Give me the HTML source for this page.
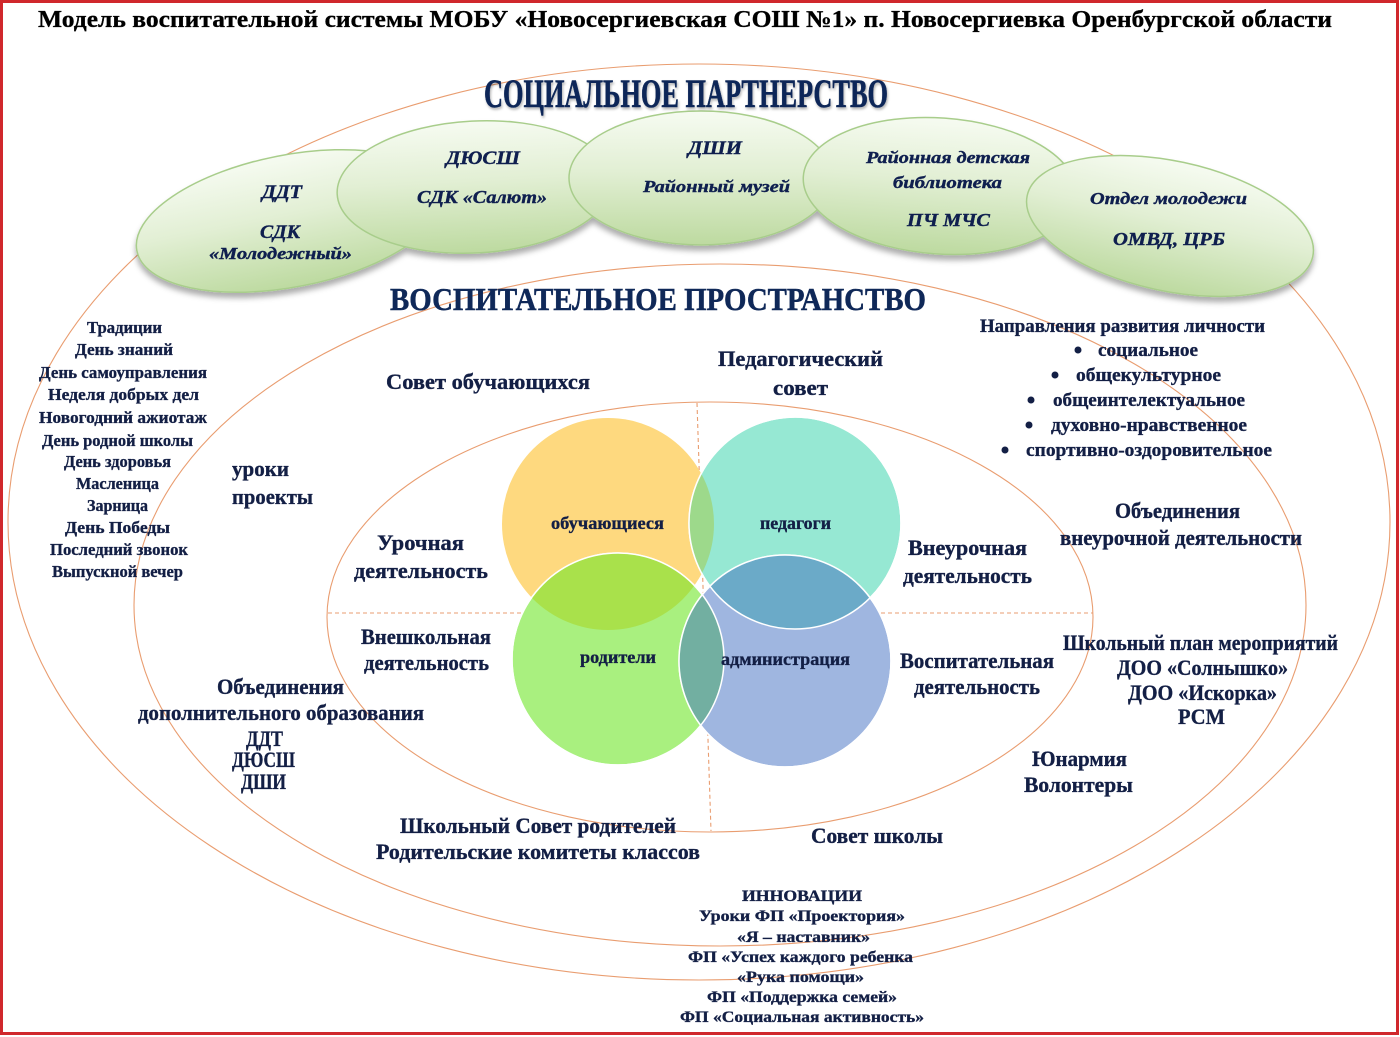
<!DOCTYPE html>
<html lang="ru">
<head>
<meta charset="utf-8">
<style>
  html, body { margin: 0; padding: 0; background: #ffffff; }
  body { width: 1400px; height: 1037px; overflow: hidden; }
  svg { display: block; }
  .t { font-family: "Liberation Serif", "DejaVu Serif", serif; font-weight: bold; fill: #131f45; stroke: #131f45; stroke-width: 0.35; }
  .p { font-family: "Liberation Serif", "DejaVu Serif", serif; font-weight: bold; font-style: italic; fill: #0f1f4f; stroke: #0f1f4f; stroke-width: 0.4; }
  .arc { fill: none; stroke: #e99d70; stroke-width: 1.1; }
  .dash { fill: none; stroke: #e99d70; stroke-width: 1.1; stroke-dasharray: 4 3; }
</style>
</head>
<body>
<svg width="1400" height="1037" viewBox="0 0 1400 1037" xmlns="http://www.w3.org/2000/svg">
  <defs>
    <linearGradient id="pg" x1="0" y1="0" x2="0" y2="1">
      <stop offset="0" stop-color="#f6fbf1"/>
      <stop offset="0.45" stop-color="#e2efd4"/>
      <stop offset="1" stop-color="#bddaa0"/>
    </linearGradient>
    <filter id="sh" x="-20%" y="-30%" width="140%" height="170%">
      <feDropShadow dx="0" dy="5" stdDeviation="3" flood-color="#000" flood-opacity="0.32"/>
    </filter>
    <filter id="hs" x="-5%" y="-20%" width="110%" height="150%">
      <feDropShadow dx="1" dy="2" stdDeviation="1.2" flood-color="#000" flood-opacity="0.3"/>
    </filter>
    <clipPath id="cY"><circle cx="608" cy="524" r="106"/></clipPath>
    <clipPath id="cT"><circle cx="795" cy="523" r="106"/></clipPath>
    <clipPath id="cG"><circle cx="618" cy="659" r="106"/></clipPath>
  </defs>

  <rect x="0" y="0" width="1400" height="1037" fill="#ffffff"/>

  <!-- Big ellipses -->
  <ellipse class="arc" cx="699" cy="522" rx="691" ry="458"/>
  <ellipse class="arc" cx="720" cy="605" rx="586" ry="341"/>
  <ellipse class="arc" cx="710" cy="617" rx="383" ry="215"/>

  <!-- Dashed axes -->
  <line class="dash" x1="697" y1="403" x2="711" y2="831"/>
  <line class="dash" x1="328" y1="613" x2="1093" y2="613"/>

  <!-- Venn circles -->
  <circle cx="608" cy="524" r="106" fill="#fed97f"/>
  <circle cx="795" cy="523" r="106" fill="#96e8d3" stroke="#ffffff" stroke-width="1.5"/>
  <circle cx="618" cy="659" r="106" fill="#a9f07f" stroke="#ffffff" stroke-width="1.5"/>
  <circle cx="785" cy="661" r="106" fill="#9fb6e0" stroke="#ffffff" stroke-width="1.5"/>
  <circle cx="795" cy="523" r="106" fill="#9dd98b" clip-path="url(#cY)"/>
  <circle cx="618" cy="659" r="106" fill="#a9e14b" clip-path="url(#cY)"/>
  <circle cx="785" cy="661" r="106" fill="#6baac8" clip-path="url(#cT)"/>
  <circle cx="785" cy="661" r="106" fill="#72afa1" clip-path="url(#cG)"/>
  <circle cx="795" cy="523" r="106" fill="none" stroke="#ffffff" stroke-width="1.5"/>
  <circle cx="618" cy="659" r="106" fill="none" stroke="#ffffff" stroke-width="1.5"/>
  <circle cx="785" cy="661" r="106" fill="none" stroke="#ffffff" stroke-width="1.5"/>

  <!-- Partnership ellipses -->
  <g fill="url(#pg)" stroke="#a8cd8b" stroke-width="1.5" filter="url(#sh)">
    <ellipse cx="290" cy="221" rx="156" ry="66" transform="rotate(-11 290 221)"/>
    <ellipse cx="475" cy="187" rx="138" ry="66" transform="rotate(-3 475 187)"/>
    <ellipse cx="701" cy="178" rx="132" ry="67"/>
    <ellipse cx="940" cy="186" rx="137" ry="68" transform="rotate(4 940 186)"/>
    <ellipse cx="1170" cy="226" rx="146" ry="65" transform="rotate(12 1170 226)"/>
  </g>

  <!-- Title -->
  <text x="38" y="27" font-family="Liberation Serif, serif" font-weight="bold" font-size="24" fill="#000" stroke="#000" stroke-width="0.3" textLength="1294" lengthAdjust="spacingAndGlyphs">Модель воспитательной системы МОБУ «Новосергиевская СОШ №1» п. Новосергиевка Оренбургской области</text>

  <!-- Headings -->
  <text x="484" y="107" font-family="Liberation Serif, serif" font-weight="bold" font-size="40" fill="#0f2858" stroke="#0f2858" stroke-width="0.6" textLength="404" lengthAdjust="spacingAndGlyphs" filter="url(#hs)">СОЦИАЛЬНОЕ  ПАРТНЕРСТВО</text>
  <text x="390" y="310" font-family="Liberation Serif, serif" font-weight="bold" font-size="32" fill="#0f2858" stroke="#0f2858" stroke-width="0.5" textLength="536" lengthAdjust="spacingAndGlyphs">ВОСПИТАТЕЛЬНОЕ ПРОСТРАНСТВО</text>

  <!-- Partnership labels -->
  <g class="p">
    <text x="262" y="198" font-size="19" textLength="40" lengthAdjust="spacingAndGlyphs">ДДТ</text>
    <text x="260" y="238" font-size="19" textLength="40" lengthAdjust="spacingAndGlyphs">СДК</text>
    <text x="209" y="259" font-size="17" textLength="143" lengthAdjust="spacingAndGlyphs">«Молодежный»</text>
    <text x="446" y="164" font-size="19" textLength="74" lengthAdjust="spacingAndGlyphs">ДЮСШ</text>
    <text x="417" y="203" font-size="18" textLength="130" lengthAdjust="spacingAndGlyphs">СДК «Салют»</text>
    <text x="688" y="154" font-size="19" textLength="54" lengthAdjust="spacingAndGlyphs">ДШИ</text>
    <text x="643" y="192" font-size="17" textLength="147" lengthAdjust="spacingAndGlyphs">Районный музей</text>
    <text x="866" y="163" font-size="17" textLength="164" lengthAdjust="spacingAndGlyphs">Районная детская</text>
    <text x="893" y="188" font-size="17" textLength="109" lengthAdjust="spacingAndGlyphs">библиотека</text>
    <text x="907" y="226" font-size="18" textLength="83" lengthAdjust="spacingAndGlyphs">ПЧ МЧС</text>
    <text x="1090" y="204" font-size="17" textLength="157" lengthAdjust="spacingAndGlyphs">Отдел молодежи</text>
    <text x="1113" y="245" font-size="18" textLength="112" lengthAdjust="spacingAndGlyphs">ОМВД, ЦРБ</text>
  </g>

  <!-- Left list -->
  <g class="t" font-size="17">
    <text x="87" y="333" textLength="75" lengthAdjust="spacingAndGlyphs">Традиции</text>
    <text x="75" y="355" textLength="98" lengthAdjust="spacingAndGlyphs">День знаний</text>
    <text x="39" y="378" textLength="168" lengthAdjust="spacingAndGlyphs">День самоуправления</text>
    <text x="48" y="400" textLength="151" lengthAdjust="spacingAndGlyphs">Неделя добрых дел</text>
    <text x="39" y="423" textLength="168" lengthAdjust="spacingAndGlyphs">Новогодний ажиотаж</text>
    <text x="42" y="446" textLength="151" lengthAdjust="spacingAndGlyphs">День родной школы</text>
    <text x="64" y="467" textLength="107" lengthAdjust="spacingAndGlyphs">День здоровья</text>
    <text x="76" y="489" textLength="83" lengthAdjust="spacingAndGlyphs">Масленица</text>
    <text x="87" y="511" textLength="61" lengthAdjust="spacingAndGlyphs">Зарница</text>
    <text x="65" y="533" textLength="105" lengthAdjust="spacingAndGlyphs">День  Победы</text>
    <text x="50" y="555" textLength="138" lengthAdjust="spacingAndGlyphs">Последний звонок</text>
    <text x="52" y="577" textLength="131" lengthAdjust="spacingAndGlyphs">Выпускной вечер</text>
  </g>

  <!-- Middle labels -->
  <g class="t" font-size="22">
    <text x="386" y="389" textLength="204" lengthAdjust="spacingAndGlyphs">Совет обучающихся</text>
    <text x="718" y="366" textLength="165" lengthAdjust="spacingAndGlyphs">Педагогический</text>
    <text x="773" y="395" textLength="55" lengthAdjust="spacingAndGlyphs">совет</text>
    <text x="232" y="476" textLength="57" lengthAdjust="spacingAndGlyphs">уроки</text>
    <text x="232" y="504" textLength="81" lengthAdjust="spacingAndGlyphs">проекты</text>
    <text x="377" y="550" textLength="87" lengthAdjust="spacingAndGlyphs">Урочная</text>
    <text x="354" y="578" textLength="134" lengthAdjust="spacingAndGlyphs">деятельность</text>
    <text x="908" y="555" textLength="119" lengthAdjust="spacingAndGlyphs">Внеурочная</text>
    <text x="903" y="583" textLength="129" lengthAdjust="spacingAndGlyphs">деятельность</text>
    <text x="361" y="644" textLength="130" lengthAdjust="spacingAndGlyphs">Внешкольная</text>
    <text x="364" y="670" textLength="125" lengthAdjust="spacingAndGlyphs">деятельность</text>
    <text x="900" y="668" textLength="154" lengthAdjust="spacingAndGlyphs">Воспитательная</text>
    <text x="914" y="694" textLength="126" lengthAdjust="spacingAndGlyphs">деятельность</text>
    <text x="217" y="694" textLength="127" lengthAdjust="spacingAndGlyphs">Объединения</text>
    <text x="138" y="720" textLength="286" lengthAdjust="spacingAndGlyphs">дополнительного образования</text>
    <text x="246" y="746" textLength="37" lengthAdjust="spacingAndGlyphs">ДДТ</text>
    <text x="232" y="767" textLength="63" lengthAdjust="spacingAndGlyphs">ДЮСШ</text>
    <text x="241" y="789" textLength="45" lengthAdjust="spacingAndGlyphs">ДШИ</text>
    <text x="400" y="833" textLength="276" lengthAdjust="spacingAndGlyphs">Школьный Совет родителей</text>
    <text x="376" y="859" textLength="324" lengthAdjust="spacingAndGlyphs">Родительские  комитеты классов</text>
    <text x="811" y="843" textLength="132" lengthAdjust="spacingAndGlyphs">Совет школы</text>
    <text x="1032" y="766" textLength="95" lengthAdjust="spacingAndGlyphs">Юнармия</text>
    <text x="1024" y="792" textLength="109" lengthAdjust="spacingAndGlyphs">Волонтеры</text>
    <text x="1063" y="650" textLength="275" lengthAdjust="spacingAndGlyphs">Школьный план мероприятий</text>
    <text x="1117" y="675" textLength="171" lengthAdjust="spacingAndGlyphs">ДОО «Солнышко»</text>
    <text x="1128" y="700" textLength="149" lengthAdjust="spacingAndGlyphs">ДОО «Искорка»</text>
    <text x="1178" y="724" textLength="47" lengthAdjust="spacingAndGlyphs">РСМ</text>
    <text x="1115" y="518" textLength="125" lengthAdjust="spacingAndGlyphs">Объединения</text>
    <text x="1060" y="545" textLength="242" lengthAdjust="spacingAndGlyphs">внеурочной деятельности</text>
  </g>

  <!-- Directions list -->
  <g class="t" font-size="19">
    <text x="980" y="332" textLength="285" lengthAdjust="spacingAndGlyphs">Направления развития личности</text>
    <text x="1098" y="356" textLength="100" lengthAdjust="spacingAndGlyphs">социальное</text>
    <text x="1076" y="381" textLength="145" lengthAdjust="spacingAndGlyphs">общекультурное</text>
    <text x="1053" y="406" textLength="192" lengthAdjust="spacingAndGlyphs">общеинтелектуальное</text>
    <text x="1051" y="431" textLength="196" lengthAdjust="spacingAndGlyphs">духовно-нравственное</text>
    <text x="1026" y="456" textLength="246" lengthAdjust="spacingAndGlyphs">спортивно-оздоровительное</text>
  </g>
  <g fill="#131f45">
    <circle cx="1078" cy="350" r="3.5"/>
    <circle cx="1055" cy="375" r="3.5"/>
    <circle cx="1031" cy="400" r="3.5"/>
    <circle cx="1029" cy="425" r="3.5"/>
    <circle cx="1005" cy="450" r="3.5"/>
  </g>

  <!-- Venn labels -->
  <g class="t" font-size="18">
    <text x="551" y="529" textLength="113" lengthAdjust="spacingAndGlyphs">обучающиеся</text>
    <text x="760" y="529" textLength="71" lengthAdjust="spacingAndGlyphs">педагоги</text>
    <text x="580" y="663" textLength="76" lengthAdjust="spacingAndGlyphs">родители</text>
    <text x="721" y="665" textLength="129" lengthAdjust="spacingAndGlyphs">администрация</text>
  </g>

  <!-- Innovations -->
  <g class="t" font-size="16">
    <text x="742" y="901" textLength="120" lengthAdjust="spacingAndGlyphs">ИННОВАЦИИ</text>
    <text x="699" y="921" textLength="206" lengthAdjust="spacingAndGlyphs">Уроки ФП «Проектория»</text>
    <text x="737" y="942" textLength="133" lengthAdjust="spacingAndGlyphs">«Я – наставник»</text>
    <text x="688" y="962" textLength="225" lengthAdjust="spacingAndGlyphs">ФП «Успех каждого ребенка</text>
    <text x="737" y="982" textLength="127" lengthAdjust="spacingAndGlyphs">«Рука помощи»</text>
    <text x="707" y="1002" textLength="190" lengthAdjust="spacingAndGlyphs">ФП «Поддержка семей»</text>
    <text x="680" y="1022" textLength="244" lengthAdjust="spacingAndGlyphs">ФП «Социальная активность»</text>
  </g>

  <!-- Red frame -->
  <rect x="1.5" y="1.5" width="1396" height="1032" fill="none" stroke="#d0282c" stroke-width="3"/>
</svg>
</body>
</html>
